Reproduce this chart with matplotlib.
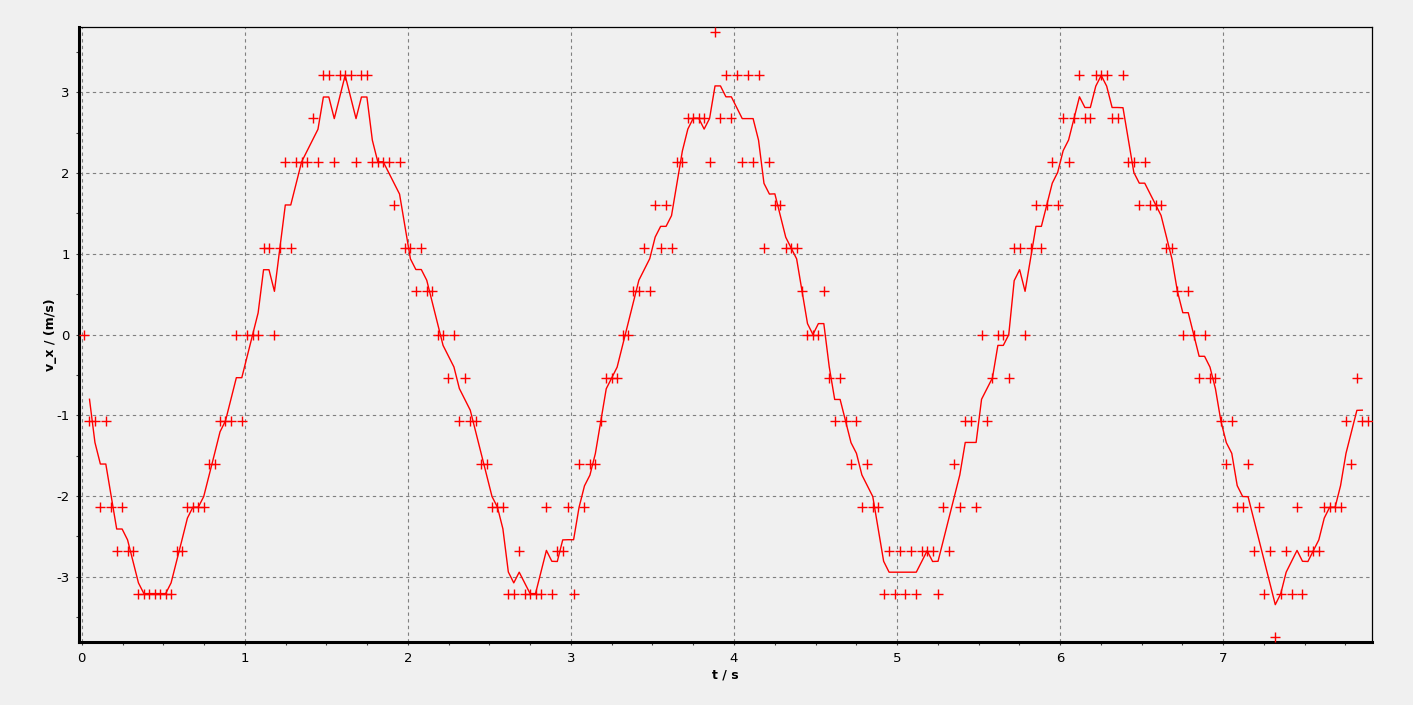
import numpy as np
import matplotlib
matplotlib.use("Agg")
import matplotlib.pyplot as plt
from matplotlib.ticker import MultipleLocator

plt.rcParams["axes.unicode_minus"] = False

# measured velocity samples (m/s), one per video frame
t_start = 0.014      # time of first frame (s)
frame_dt = 0.03336   # frame interval (s)
v_x = [
    0, -1.07, -1.07, -2.14, -1.07, -2.14, -2.68, -2.14, -2.68, -2.68,
    -3.21, -3.21, -3.21, -3.21, -3.21, -3.21, -3.21, -2.68, -2.68, -2.14,
    -2.14, -2.14, -2.14, -1.61, -1.61, -1.07, -1.07, -1.07, 0, -1.07,
    0, 0, 0, 1.07, 1.07, 0, 1.07, 2.14, 1.07, 2.14,
    2.14, 2.14, 2.68, 2.14, 3.21, 3.21, 2.14, 3.21, 3.21, 3.21,
    2.14, 3.21, 3.21, 2.14, 2.14, 2.14, 2.14, 1.61, 2.14, 1.07,
    1.07, 0.54, 1.07, 0.54, 0.54, 0, 0, -0.54, 0, -1.07,
    -0.54, -1.07, -1.07, -1.61, -1.61, -2.14, -2.14, -2.14, -3.21, -3.21,
    -2.68, -3.21, -3.21, -3.21, -3.21, -2.14, -3.21, -2.68, -2.68, -2.14,
    -3.21, -1.61, -2.14, -1.61, -1.61, -1.07, -0.54, -0.54, -0.54, 0,
    0, 0.54, 0.54, 1.07, 0.54, 1.61, 1.07, 1.61, 1.07, 2.14,
    2.14, 2.68, 2.68, 2.68, 2.68, 2.14, 3.75, 2.68, 3.21, 2.68,
    3.21, 2.14, 3.21, 2.14, 3.21, 1.07, 2.14, 1.61, 1.61, 1.07,
    1.07, 1.07, 0.54, 0, 0, 0, 0.54, -0.54, -1.07, -0.54,
    -1.07, -1.61, -1.07, -2.14, -1.61, -2.14, -2.14, -3.21, -2.68, -3.21,
    -2.68, -3.21, -2.68, -3.21, -2.68, -2.68, -2.68, -3.21, -2.14, -2.68,
    -1.61, -2.14, -1.07, -1.07, -2.14, 0, -1.07, -0.54, 0, 0,
    -0.54, 1.07, 1.07, 0, 1.07, 1.61, 1.07, 1.61, 2.14, 1.61,
    2.68, 2.14, 2.68, 3.21, 2.68, 2.68, 3.21, 3.21, 3.21, 2.68,
    2.68, 3.21, 2.14, 2.14, 1.61, 2.14, 1.61, 1.61, 1.61, 1.07,
    1.07, 0.54, 0, 0.54, 0, -0.54, 0, -0.54, -0.54, -1.07,
    -1.61, -1.07, -2.14, -2.14, -1.61, -2.68, -2.14, -3.21, -2.68, -3.75,
    -3.21, -2.68, -3.21, -2.14, -3.21, -2.68, -2.68, -2.68, -2.14, -2.14,
    -2.14, -2.14, -1.07, -1.61, -0.54, -1.07, -1.07,
]
x_ticks = [0, 1, 2, 3, 4, 5, 6, 7]
y_ticks = [-3, -2, -1, 0, 1, 2, 3]

v = np.array(v_x)
t = t_start + frame_dt * np.arange(len(v))
# smoothed curve: 1-2-1 weighted average of neighbouring samples
v_smooth = np.convolve(v, [0.25, 0.5, 0.25], mode="valid")
t_smooth = t[1:-1]

bg = "#f0f0f0"
fig = plt.figure(figsize=(14.13, 7.05), dpi=100, facecolor=bg)
ax = fig.add_axes([79 / 1413, 1 - 642 / 705, (1372 - 79) / 1413, (642 - 27) / 705])
ax.set_facecolor(bg)

ax.plot(t_smooth, v_smooth, color="red", lw=1.0, zorder=3)
ax.plot(t, v, linestyle="none", marker="+", color="red", ms=6.5, mew=1.0, zorder=4)

ax.set_xlim(-0.017, 7.913)
ax.set_ylim(-3.81, 3.81)
ax.set_xticks(x_ticks)
ax.set_yticks(y_ticks)
ax.xaxis.set_minor_locator(MultipleLocator(0.25))
ax.yaxis.set_minor_locator(MultipleLocator(0.5))
ax.tick_params(which="both", direction="out", length=2.5, width=0.8, labelsize=9.5, color="#404040")
ax.tick_params(axis="x", pad=5)
ax.tick_params(axis="y", pad=4)

ax.grid(True, which="major", linestyle=(0, (3, 3)), color="#808080", lw=0.8)
ax.set_axisbelow(True)

for side in ["left", "bottom"]:
    ax.spines[side].set_linewidth(2.2)
for side in ["top", "right"]:
    ax.spines[side].set_linewidth(0.9)

ax.set_xlabel("t / s", fontsize=9, fontweight="bold", labelpad=2)
ax.set_ylabel("v_x / (m/s)", fontsize=9, fontweight="bold")
ax.yaxis.set_label_coords(-0.017, 0.5)

fig.savefig("out.png", dpi=100, facecolor=bg)
